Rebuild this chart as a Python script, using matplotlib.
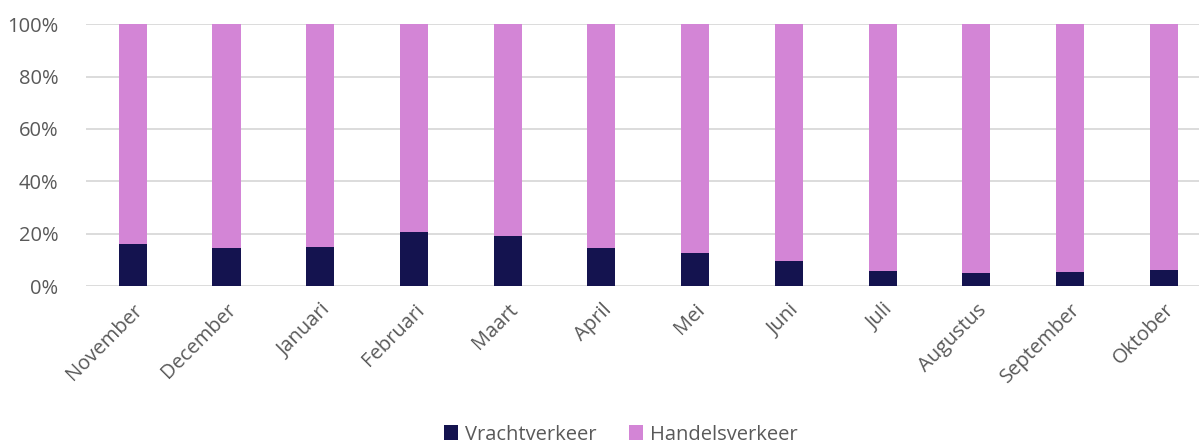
import matplotlib.pyplot as plt
from matplotlib.ticker import PercentFormatter

months = ['November', 'December', 'Januari', 'Februari', 'Maart', 'April',
          'Mei', 'Juni', 'Juli', 'Augustus', 'September', 'Oktober']
vracht = [16.0, 14.7, 15.1, 20.8, 19.0, 14.7, 12.6, 9.4, 5.9, 5.1, 5.5, 6.3]
handel = [100 - v for v in vracht]

plt.rcParams['font.family'] = ['Open Sans', 'DejaVu Sans']

fig = plt.figure(figsize=(11.99, 4.47), dpi=100)
# axes runs a little past the right edge, like the original export
ax = fig.add_axes([0.0717, 0.36, 0.938, 0.586])

x = range(len(months))
ax.bar(x, vracht, width=0.3, color='#14134f', label='Vrachtverkeer', zorder=3)
ax.bar(x, handel, width=0.3, bottom=vracht, color='#d385d6', label='Handelsverkeer', zorder=3)

ax.set_ylim(0, 100)
ax.set_xlim(-0.5, len(months) - 0.5)
ax.set_yticks(range(0, 101, 20))
ax.yaxis.set_major_formatter(PercentFormatter(decimals=0))
ax.grid(axis='y', color='#d9d9d9', linewidth=1.3, zorder=0)
ax.set_xticks(list(x))
ax.set_xticklabels(months, rotation=45, ha='right', rotation_mode='anchor')
ax.tick_params(length=0, labelsize=14.5, colors='#595959')
ax.tick_params(axis='x', pad=10)
ax.tick_params(axis='y', pad=20)
for s in ax.spines.values():
    s.set_visible(False)

fig.legend(loc='lower center', ncol=2, frameon=False, fontsize=14.5,
           bbox_to_anchor=(0.518, -0.035), handlelength=0.7, handleheight=0.7,
           columnspacing=1.6, handletextpad=0.35, labelcolor='#595959')

fig.savefig('out.png', dpi=100)
